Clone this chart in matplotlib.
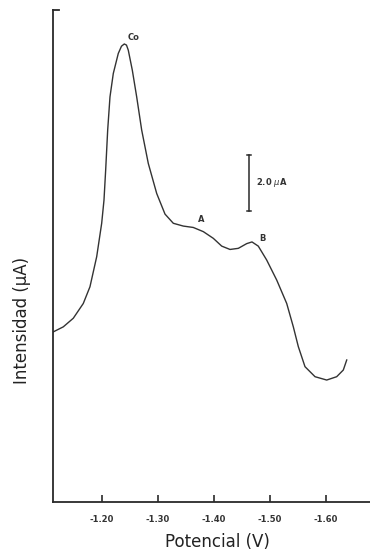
import matplotlib
matplotlib.use("Agg")
import matplotlib.pyplot as plt

# polarogram: potential (V) vs current (uA)
potencial = [-1.1137, -1.1315, -1.1494, -1.1672, -1.1791, -1.1911, -1.2000, -1.2041,
             -1.2071, -1.2107, -1.2148, -1.2207, -1.2296, -1.2353, -1.2403, -1.2442,
             -1.2474, -1.2546, -1.2624, -1.2713, -1.2831, -1.2981, -1.3129, -1.3277,
             -1.3455, -1.3633, -1.3812, -1.3990, -1.4140, -1.4288, -1.4436, -1.4586,
             -1.4680, -1.4792, -1.4942, -1.5121, -1.5299, -1.5417, -1.5506, -1.5625,
             -1.5804, -1.6012, -1.6190, -1.6308, -1.6369]
intensidad = [6.11, 6.29, 6.60, 7.13, 7.73, 8.81, 10.01, 10.84,
              11.92, 13.36, 14.55, 15.39, 16.11, 16.37, 16.45, 16.41,
              16.23, 15.51, 14.55, 13.36, 12.16, 11.08, 10.34, 10.01,
              9.91, 9.86, 9.71, 9.47, 9.19, 9.07, 9.11, 9.28,
              9.34, 9.19, 8.69, 7.97, 7.13, 6.29, 5.58, 4.86,
              4.50, 4.38, 4.50, 4.74, 5.10]

xticks = [-1.20, -1.30, -1.40, -1.50, -1.60]
xtick_labels = ["-1.20", "-1.30", "-1.40", "-1.50", "-1.60"]

peak_names = ["Co", "A", "B"]
peak_x = [-1.2563, -1.3783, -1.4867]
peak_y = [16.69, 10.13, 9.48]

# 2.0 uA scale bar
bar_x = -1.4627
bar_y0 = 10.46
bar_len = 2.0

xmin, xmax = -1.1132, -1.6784
ymin, ymax = 0, 17.67

fig = plt.figure(figsize=(3.7, 5.55), dpi=100)
ax = fig.add_axes([53/370, 53/555, 317/370, 492/555])

ink = "#2a2a2a"
ax.plot(potencial, intensidad, color="#333333", lw=1.0, solid_joinstyle="round")

ax.set_xlim(xmin, xmax)
ax.set_ylim(ymin, ymax)

ax.spines["top"].set_visible(False)
ax.spines["right"].set_visible(False)
ax.spines["left"].set_color(ink)
ax.spines["bottom"].set_color(ink)
ax.spines["left"].set_linewidth(1.3)
ax.spines["bottom"].set_linewidth(1.3)

ax.set_xticks(xticks)
ax.set_xticklabels(xtick_labels, fontsize=6, color="#333333", fontweight="bold")
ax.tick_params(axis="x", direction="in", length=5, width=1.2, color=ink, pad=9)
ax.set_yticks([])

# little cap at the top of the y axis
ax.plot([xmin, xmin - 0.011], [ymax, ymax], color=ink, lw=1.3, clip_on=False)

for name, px, py in zip(peak_names, peak_x, peak_y):
    ax.text(px, py, name, fontsize=6, color="#333333", fontweight="bold",
            ha="center", va="center")

ax.plot([bar_x, bar_x], [bar_y0, bar_y0 + bar_len], color=ink, lw=1.1)
for yy in [bar_y0, bar_y0 + bar_len]:
    ax.plot([bar_x - 0.0036, bar_x + 0.0036], [yy, yy], color=ink, lw=1.1)
ax.text(bar_x - 0.0125, bar_y0 + bar_len / 2, "2.0 $\\mu$A", fontsize=6,
        color="#333333", fontweight="bold", ha="left", va="center")

fig.text(217/370, 1 - 542/555, "Potencial (V)", fontsize=12, color="#222222",
         ha="center", va="center")
fig.text(22/370, 1 - 320/555, "Intensidad (µA)", fontsize=12, color="#222222",
         ha="center", va="center", rotation=90)

fig.savefig("out.png", dpi=100)
